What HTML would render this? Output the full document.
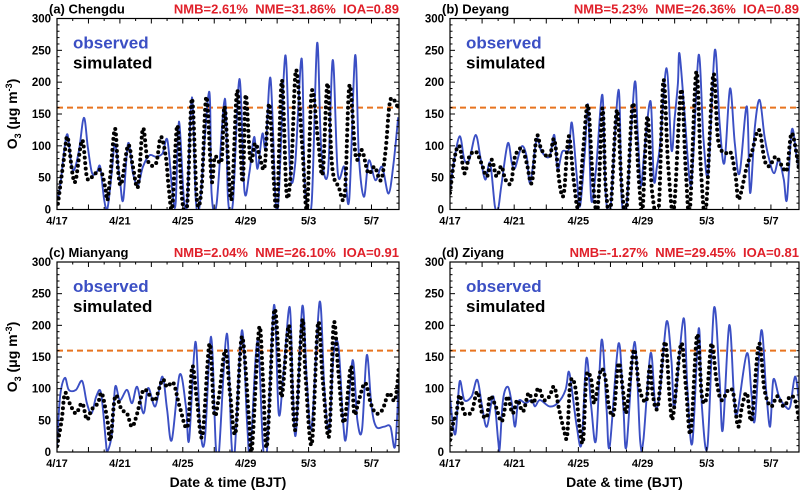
<!DOCTYPE html>
<html><head><meta charset="utf-8"><style>
body{margin:0;background:#fff;}
svg{display:block;font-family:"Liberation Sans",Arial,sans-serif;}
.pre{white-space:pre;}
</style></head><body>
<svg id="chart" width="802" height="492" viewBox="0 0 802 492"></svg>
<script>
const xTickLabels=["4/17","4/21","4/25","4/29","5/3","5/7"];
const xTickDays=[0,4,8,12,16,20];
const yTicks=[0,50,100,150,200,250,300];
const threshold=160;
const panelNames=["(a) Chengdu","(b) Deyang","(c) Mianyang","(d) Ziyang"];
const panelStats=["NMB=2.61%  NME=31.86%  IOA=0.89","NMB=5.23%  NME=26.36%  IOA=0.89","NMB=2.04%  NME=26.10%  IOA=0.91","NMB=-1.27%  NME=29.45%  IOA=0.81"];

const aObsT=[0.06,0.25,0.46,0.67,0.875,1.08,1.4,1.71,1.96,2.23,2.54,2.75,3.0,3.21,3.48,3.69,4.0,4.21,4.52,4.83,5.15,5.46,5.88,6.29,6.71,7.02,7.33,7.54,7.75,8.06,8.27,8.58,8.83,9.1,9.67,9.83,10.15,10.67,10.88,11.19,11.6,11.92,12.23,12.54,12.75,13.06,13.27,13.58,13.9,14.1,14.52,14.83,15.15,15.56,15.77,16.19,16.54,16.81,17.23,17.54,17.86,18.27,18.58,18.96,19.2,19.52,19.83,20.25,20.67,21.08,21.4,21.7];
const aObsV=[15,46,93,118,77,62,93,144,98,57,59,67,15,2,57,103,46,15,104,57,38,67,85,83,88,109,30,9,138,20,9,176,15,12,185,25,9,174,15,12,205,30,57,114,64,119,98,206,15,20,242,57,72,237,36,9,261,93,57,235,57,67,15,242,83,20,77,46,67,25,72,145];
const aSimT=[0.06,0.46,0.67,0.98,1.19,1.6,1.9,2.23,2.75,3.06,3.21,3.4,3.69,3.9,4.1,4.52,4.83,5.15,5.46,5.77,6.29,6.6,6.92,7.1,7.33,7.65,7.96,8.27,8.58,8.9,9.2,9.5,9.83,10.04,10.46,10.67,11.08,11.46,11.8,12.0,12.3,12.6,12.9,13.2,13.5,13.8,14.0,14.3,14.6,14.9,15.2,15.6,15.9,16.2,16.6,16.9,17.2,17.5,17.9,18.3,18.6,19.0,19.4,19.8,20.2,20.6,20.9,21.2,21.7];
const aSimV=[9,83,114,57,46,109,51,51,62,36,15,57,127,57,41,101,67,36,127,77,72,114,83,36,4,132,15,4,174,15,36,177,46,83,77,161,15,187,43,180,77,104,83,67,166,41,2,203,25,67,219,98,2,185,109,57,198,67,36,25,195,83,93,57,67,46,93,172,160];

const bObsT=[0,0.2,0.6,0.9,1.2,1.6,1.9,2.2,2.5,2.8,3.0,3.2,3.6,3.85,4.05,4.47,4.78,5.0,5.4,5.7,6.2,6.5,6.7,7.0,7.4,7.6,7.9,8.1,8.4,8.6,8.8,9.1,9.5,9.7,10.0,10.5,10.7,11.0,11.5,11.7,11.9,12.1,12.5,12.7,12.9,13.1,13.5,13.8,14.0,14.2,14.3,14.6,14.95,15.15,15.5,15.8,16.1,16.5,16.8,17.1,17.45,17.75,18.05,18.5,18.7,19.0,19.3,19.6,19.9,20.2,20.5,20.8,21.0,21.3,21.6,21.75];
const bObsV=[29,68,115,78,78,117,81,47,73,5,1,37,104,73,65,99,83,42,110,91,83,117,63,91,94,136,52,5,89,164,16,63,180,26,3,188,16,5,198,120,37,89,170,47,68,104,222,94,143,198,245,157,42,78,243,110,57,250,136,73,190,104,57,162,26,130,172,115,78,57,78,47,16,125,83,68];
const bSimT=[0,0.3,0.6,0.9,1.2,1.6,1.95,2.3,2.6,2.9,3.2,3.45,3.8,4.05,4.47,4.78,5.1,5.4,5.7,6.2,6.5,6.85,7.1,7.4,7.7,8.0,8.3,8.6,8.9,9.2,9.5,9.7,10.0,10.4,10.7,11.0,11.4,11.8,12.0,12.3,12.6,13.0,13.3,13.6,13.95,14.4,14.7,14.95,15.35,15.65,15.95,16.4,16.7,17.1,17.5,17.8,18.0,18.5,18.8,19.25,19.6,19.9,20.3,20.7,21.0,21.3,21.75];
const bSimV=[26,83,99,57,83,91,73,52,78,52,68,47,42,83,96,73,42,115,94,83,110,37,26,115,47,3,94,164,47,0,159,37,0,156,37,0,167,37,0,146,26,0,203,68,0,188,57,0,216,57,0,211,110,89,89,52,16,68,89,125,78,68,83,68,63,120,63];

const cObsT=[0,0.2,0.5,0.75,1.2,1.6,1.9,2.2,2.5,2.8,3.1,3.2,3.5,3.7,4.0,4.45,4.77,5.1,5.5,5.8,6.25,6.7,7.0,7.3,7.8,8.2,8.4,8.8,9.1,9.4,9.8,10.1,10.3,10.8,11.1,11.3,11.76,12.1,12.3,12.75,13.1,13.35,13.8,14.1,14.4,14.8,15.0,15.2,15.6,15.9,16.2,16.7,17.0,17.3,17.6,17.9,18.2,18.4,18.8,19.1,19.4,19.7,20.0,20.3,20.8,21.2,21.5,21.75];
const cObsV=[9,88,117,98,98,112,77,61,88,93,19,1,30,103,82,98,77,103,61,101,72,119,67,19,122,72,19,174,40,19,182,9,0,187,14,0,192,40,0,177,9,0,232,61,124,229,98,30,230,109,40,237,103,35,156,166,46,25,145,51,35,153,72,40,40,40,9,114];
const cSimT=[0,0.3,0.5,0.8,1.2,1.6,1.9,2.2,2.6,2.85,3.2,3.4,3.7,4.1,4.45,4.77,5.1,5.5,5.95,6.25,6.7,7.0,7.4,7.8,8.3,8.6,8.9,9.25,9.7,10.0,10.3,10.7,11.0,11.35,11.76,12.2,12.4,12.85,13.1,13.35,13.8,14.1,14.3,14.75,15.0,15.2,15.6,15.8,16.2,16.6,16.9,17.3,17.6,17.9,18.25,18.7,18.9,19.2,19.6,19.95,20.3,20.7,21.1,21.5,21.75];
const cSimV=[9,51,93,77,61,77,51,67,77,93,51,19,88,67,61,40,61,98,88,82,114,103,109,72,40,135,82,25,171,61,88,161,93,30,182,56,6,195,114,9,221,150,88,200,72,43,208,124,12,203,114,25,203,124,46,135,61,82,109,77,61,67,93,82,135];

const dObsT=[0,0.2,0.37,0.6,0.9,1.35,1.7,2.0,2.3,2.7,3.0,3.1,3.3,3.6,3.85,4.05,4.27,4.7,5.1,5.3,5.6,6.2,6.7,7.2,7.4,7.6,7.9,8.2,8.5,8.8,9.1,9.45,9.75,9.95,10.5,10.8,11.0,11.5,11.85,12.05,12.5,12.8,13.1,13.5,13.8,14.0,14.55,14.8,15.1,15.5,15.7,16.05,16.45,16.8,17.0,17.4,17.7,17.9,18.5,18.8,19.0,19.4,19.7,19.95,20.15,20.5,20.9,21.2,21.5,21.75];
const dObsV=[88,40,33,111,82,88,114,72,40,88,19,6,82,103,77,40,80,77,82,72,82,72,77,98,127,98,40,14,148,72,19,177,72,9,171,72,9,174,19,19,156,72,98,206,145,72,211,98,14,195,72,9,227,114,35,200,88,61,156,88,51,192,98,40,114,88,72,72,119,82];
const dSimT=[0,0.2,0.4,0.6,0.9,1.35,1.7,2.0,2.3,2.5,2.85,3.2,3.4,3.6,3.9,4.2,4.55,4.9,5.2,5.5,5.85,6.2,6.5,6.8,7.1,7.3,7.5,7.8,8.1,8.3,8.5,8.8,9.0,9.4,9.7,9.9,10.2,10.5,10.8,11.0,11.45,11.75,11.95,12.25,12.45,12.65,12.95,13.4,13.7,13.9,14.4,14.7,15.0,15.4,15.7,16.0,16.3,16.6,16.9,17.35,17.65,17.95,18.2,18.5,18.8,19.25,19.6,20.0,20.4,20.8,21.2,21.5,21.75];
const dSimV=[19,46,61,90,61,64,95,61,56,88,72,48,67,88,61,82,64,93,77,101,82,88,103,67,35,25,109,103,35,19,119,114,77,130,114,72,61,140,93,64,161,109,88,82,135,88,72,174,82,56,171,103,30,185,88,88,171,114,82,98,93,40,72,93,51,171,98,72,88,72,88,82,51];

const obsT=[aObsT,bObsT,cObsT,dObsT], obsV=[aObsV,bObsV,cObsV,dObsV];
const simT=[aSimT,bSimT,cSimT,dSimT], simV=[aSimV,bSimV,cSimV,dSimV];
const DMAX=21.75;
const boxes=[{l:57,r:399,t:18.5,b:209.5},{l:450,r:799,t:18.5,b:209.5},{l:57,r:399,t:262,b:452},{l:450,r:799,t:262,b:452}];
const NS="http://www.w3.org/2000/svg";
const svg=document.getElementById('chart');
function mk(tag,attrs,parent){const e=document.createElementNS(NS,tag);for(const k in attrs)e.setAttribute(k,attrs[k]);(parent||svg).appendChild(e);return e;}
function smooth(pts){let d="M"+pts[0][0].toFixed(1)+","+pts[0][1].toFixed(1);
 for(let i=0;i<pts.length-1;i++){const p0=pts[Math.max(0,i-1)],p1=pts[i],p2=pts[i+1],p3=pts[Math.min(pts.length-1,i+2)];
  const c1x=p1[0]+(p2[0]-p0[0])/6,c1y=p1[1]+(p2[1]-p0[1])/6,c2x=p2[0]-(p3[0]-p1[0])/6,c2y=p2[1]-(p3[1]-p1[1])/6;
  d+=" C"+c1x.toFixed(1)+","+c1y.toFixed(1)+" "+c2x.toFixed(1)+","+c2y.toFixed(1)+" "+p2[0].toFixed(1)+","+p2[1].toFixed(1);}
 return d;}
boxes.forEach((bx,pi)=>{
 const g=mk('g',{});
 
 
 const xs=d=>bx.l+(bx.r-bx.l)*d/DMAX, ys=v=>bx.b-(bx.b-bx.t)*v/300;
 const cp=mk('clipPath',{id:'clip'+pi},g);
 mk('rect',{x:bx.l,y:bx.t,width:bx.r-bx.l,height:bx.b-bx.t},cp);
 const th=mk('line',{x1:bx.l,x2:bx.r,y1:ys(threshold),y2:ys(threshold),stroke:'#e8731f','stroke-width':2,'stroke-dasharray':'6 4'},g);
 
 
 const op=obsT[pi].map((t,i)=>[xs(t),ys(obsV[pi][i])]);
 const ol=mk('path',{d:smooth(op),fill:'none',stroke:'#3b4fc4','stroke-width':1.9,'clip-path':'url(#clip'+pi+')'},g);
 
 
 const sp=simT[pi].map((t,i)=>[xs(t),ys(simV[pi][i])]);
 const sl=mk('path',{d:smooth(sp),fill:'none',stroke:'#000','stroke-width':4,'stroke-linecap':'round','stroke-dasharray':'0 5.5','clip-path':'url(#clip'+pi+')'},g);
 
 
 const fr=mk('rect',{x:bx.l,y:bx.t,width:bx.r-bx.l,height:bx.b-bx.t,fill:'none',stroke:'#000','stroke-width':1.2},g);
 
 
 for(let v=0;v<=300;v+=10){const y=ys(v),len=v%50===0?5:2.5;
  mk('line',{x1:bx.l,x2:bx.l+len,y1:y,y2:y,stroke:'#000','stroke-width':1},g);
  mk('line',{x1:bx.r,x2:bx.r-len,y1:y,y2:y,stroke:'#000','stroke-width':1},g);}
 yTicks.forEach(v=>{const t=mk('text',{x:bx.l-6,y:ys(v)+4,'text-anchor':'end','font-size':11.5,'font-weight':'bold'},g);t.textContent=v;
  
  });
 for(let d=0;d<=21;d++){const x=xs(d),len=d%2===0?5:2.5;
  mk('line',{x1:x,x2:x,y1:bx.b,y2:bx.b-len,stroke:'#000','stroke-width':1},g);
  mk('line',{x1:x,x2:x,y1:bx.t,y2:bx.t+len,stroke:'#000','stroke-width':1},g);}
 xTickLabels.forEach((s,i)=>{const t=mk('text',{x:xs(xTickDays[i]),y:bx.b+15,'text-anchor':'middle','font-size':11,'font-weight':'bold'},g);t.textContent=s;
  
  });
 const ti=mk('text',{x:bx.l-8,y:bx.t-5,'font-size':13,'font-weight':'bold'},g);ti.textContent=panelNames[pi];
 
 
 const st=mk('text',{x:bx.r,y:bx.t-5,'text-anchor':'end','font-size':13,'font-weight':'bold',fill:'#e0202a','class':'pre'},g);st.textContent=panelStats[pi];
 
 
 const l1=mk('text',{x:bx.l+16,y:bx.t+30,'font-size':17,'font-weight':'bold',fill:'#3b4fc4'},g);l1.textContent='observed';
 
 
 const l2=mk('text',{x:bx.l+16,y:bx.t+50,'font-size':17,'font-weight':'bold',fill:'#000'},g);l2.textContent='simulated';
 
 
 if(pi%2===0){const yt=mk('text',{transform:'translate(17,'+((bx.t+bx.b)/2)+') rotate(-90)','text-anchor':'middle','font-size':14,'font-weight':'bold'},g);
  yt.innerHTML='O<tspan font-size="9" dy="4">3</tspan><tspan dy="-4"> (μg m</tspan><tspan font-size="9" dy="-5">-3</tspan><tspan dy="5">)</tspan>';
  
  }
 if(pi>=2){const xt=mk('text',{x:(bx.l+bx.r)/2,y:487,'text-anchor':'middle','font-size':14,'font-weight':'bold'},g);xt.textContent='Date & time (BJT)';
  
  }
});
</script>
</body></html>
